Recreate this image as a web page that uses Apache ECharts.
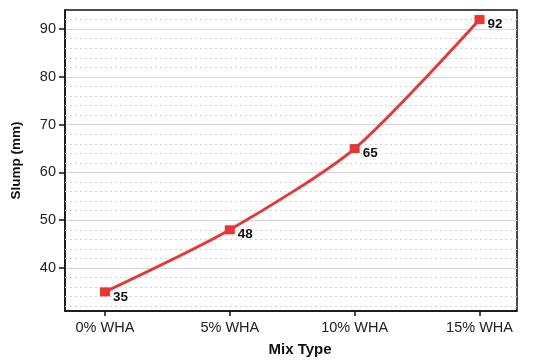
<!DOCTYPE html>
<html>
<head>
<meta charset="utf-8">
<script src="https://cdn.jsdelivr.net/npm/echarts@6/dist/echarts.min.js"></script>
<style>
  html, body { margin: 0; padding: 0; background: #fff; }
  #chart { width: 550px; height: 362px; }
</style>
</head>
<body>
<div id="chart"></div>
<script>
// data
const categories = ["0% WHA", "5% WHA", "10% WHA", "15% WHA"];
const slump = [35, 48, 65, 92];
const yTicks = [40, 50, 60, 70, 80, 90];
const yMinor = [32, 34, 36, 38, 42, 44, 46, 48, 52, 54, 56, 58, 62, 64, 66, 68,
  72, 74, 76, 78, 82, 84, 86, 88, 92];

const font = "'Liberation Sans', Arial, sans-serif";

let chart = echarts.init(document.getElementById("chart"));

let option = {
  animation: false,
  grid: {
    left: 65,
    right: 33,
    top: 10,
    bottom: 49,
    show: true,
    borderColor: "#111",
    borderWidth: 1.5
  },
  xAxis: {
    type: "value",
    min: -0.32,
    max: 3.3,
    name: "Mix Type",
    nameLocation: "middle",
    nameGap: 31,
    nameTextStyle: { fontFamily: font, fontWeight: "bold", fontSize: 15, color: "#111", padding: [0, 0, 0, 18] },
    axisLine: { show: true, lineStyle: { color: "#111", width: 1.5 } },
    axisTick: { show: true, length: 5, customValues: [0, 1, 2, 3], lineStyle: { color: "#111", width: 1.5 } },
    axisLabel: {
      customValues: [0, 1, 2, 3],
      formatter: v => categories[Math.round(v)],
      fontFamily: font, fontSize: 14.5, color: "#222", margin: 9
    },
    splitLine: { show: false }
  },
  yAxis: {
    type: "value",
    min: 31,
    max: 94,
    name: "Slump (mm)",
    nameLocation: "middle",
    nameGap: 42,
    nameTextStyle: { fontFamily: font, fontWeight: "bold", fontSize: 13.5, color: "#111" },
    axisLine: { show: true, onZero: false, lineStyle: { color: "#111", width: 1.5 } },
    axisTick: { show: true, length: 6, customValues: yTicks, lineStyle: { color: "#111", width: 1.5 } },
    axisLabel: { customValues: yTicks, fontFamily: font, fontSize: 14.5, color: "#222", margin: 9 },
    splitLine: { show: true, lineStyle: { color: "#d6d6d6", width: 1 } }
  },
  series: [
    {
      // minor dotted gridlines, drawn below the curve
      type: "line",
      data: [],
      z: 1,
      markLine: {
        silent: true,
        symbol: "none",
        label: { show: false },
        lineStyle: { color: "#d4d4d4", type: [2, 3], width: 1 },
        data: yMinor.map(v => ({ yAxis: v }))
      }
    },
    {
      type: "line",
      data: slump.map((v, i) => [i, v]),
      smooth: 0.25,
      symbol: "rect",
      symbolSize: [10, 9],
      lineStyle: { color: "#ee3333", width: 2.8 },
      itemStyle: { color: "#ee3333" },
      label: {
        show: true,
        position: "right",
        distance: 3,
        offset: [0, 5],
        fontFamily: font,
        fontWeight: "bold",
        fontSize: 13.5,
        color: "#111"
      },
      z: 5
    }
  ]
};

chart.setOption(option);
</script>
</body>
</html>
